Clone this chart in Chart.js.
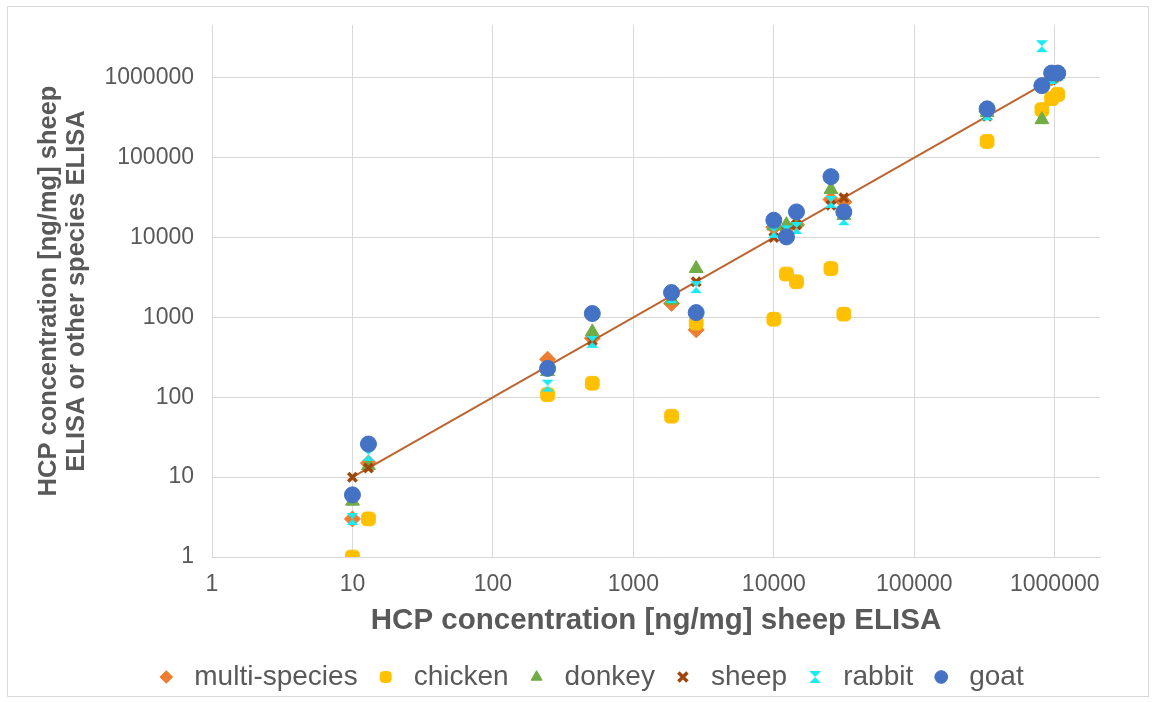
<!DOCTYPE html>
<html>
<head>
<meta charset="utf-8">
<script src="https://cdn.jsdelivr.net/npm/chart.js@4.4.1/dist/chart.umd.min.js"></script>
<style>
  html, body { margin: 0; padding: 0; background: #fff; }
  #wrap { position: relative; width: 1156px; height: 702px; }
</style>
</head>
<body>
<div id="wrap"><canvas id="hcp-chart" width="1156" height="702"></canvas></div>
<script>
// Sheep ELISA reference values (x) shared by every series
const xValues = [10, 13, 245, 510, 1870, 2800, 10000, 12300, 14500, 25500, 31500, 330000, 810000, 950000, 1050000];

// Values measured with the sheep ELISA or the other species ELISAs
const multiSpecies = [3, 15, 300, 550, 1500, 700, 13500, 13000, 14500, 30000, 28000, 380000, 800000, 1000000, 1100000];
const chicken = [1, 3, 108, 150, 58, 850, 950, 3500, 2800, 4100, 1100, 160000, 400000, 550000, 620000];
const donkey = [5, 14, 210, 660, 1650, 4100, 14000, 14500, 15500, 40000, 19000, 370000, 300000, 1000000, 1100000];
const sheep = [10, 13, 245, 510, 1870, 2800, 10000, 12300, 14500, 25500, 31500, 330000, 810000, 950000, 1050000];
const rabbit = [3, 19, 140, 495, 1800, 2400, 11800, 12000, 13200, 28000, 17000, 350000, 2500000, 1000000, 1100000];
const goat = [6, 26, 230, 1120, 2050, 1150, 16500, 10200, 21000, 58000, 21000, 410000, 800000, 1150000, 1150000];

// trendline through the sheep series
const trendX = [10, 1050000];
const trendY = [10, 1050000];

const tickValues = [1, 10, 100, 1000, 10000, 100000, 1000000];

const grey = '#595959';
const gridGrey = '#d9d9d9';

function pts(ys) {
    return xValues.map((x, i) => ({ x: x, y: ys[i] }));
}

// hourglass marker for the rabbit series
function hourglass(color) {
    const c = document.createElement('canvas');
    c.width = 14; c.height = 14;
    const g = c.getContext('2d');
    g.fillStyle = color;
    g.beginPath();
    g.moveTo(1, 1); g.lineTo(13, 1); g.lineTo(7, 7); g.closePath();
    g.moveTo(7, 7); g.lineTo(13, 13); g.lineTo(1, 13); g.closePath();
    g.fill();
    return c;
}

const frame = {
    id: 'frame',
    beforeDraw(chart) {
        const ctx = chart.ctx;
        ctx.save();
        ctx.strokeStyle = gridGrey;
        ctx.lineWidth = 1;
        ctx.strokeRect(7.5, 6.5, 1141, 690);
        ctx.restore();
    },
    afterLayout(chart) {
        // legend sits a little right of the plot centre in the original
        chart.legend.left += 28;
        chart.legend.right += 28;
    }
};

Chart.defaults.font.family = '"Liberation Sans", Arial, sans-serif';
Chart.defaults.color = grey;

const ctx = document.getElementById('hcp-chart').getContext('2d');
new Chart(ctx, {
    type: 'scatter',
    data: {
        datasets: [
            { label: 'goat', data: pts(goat), pointStyle: 'circle', pointRadius: 8, backgroundColor: '#4472c4', borderColor: '#4472c4', order: 0 },
            { label: 'rabbit', data: pts(rabbit), pointStyle: hourglass('#1de9f0'), backgroundColor: '#1de9f0', borderColor: '#1de9f0', order: 1 },
            { label: 'sheep', data: pts(sheep), pointStyle: 'crossRot', pointRadius: 6, borderWidth: 3.5, backgroundColor: '#9e480e', borderColor: '#9e480e', order: 2 },
            { label: 'trend', data: trendX.map((x, i) => ({ x: x, y: trendY[i] })), showLine: true, pointRadius: 0, borderColor: '#bd6430', borderWidth: 2, order: 3 },
            { label: 'donkey', data: pts(donkey), pointStyle: 'triangle', pointRadius: 8, backgroundColor: '#70ad47', borderColor: '#70ad47', order: 4 },
            { label: 'chicken', data: pts(chicken), pointStyle: 'rectRounded', pointRadius: 8, backgroundColor: '#ffc000', borderColor: '#ffc000', order: 5 },
            { label: 'multi-species', data: pts(multiSpecies), pointStyle: 'rectRot', pointRadius: 8, backgroundColor: '#ed7d31', borderColor: '#ed7d31', order: 6 }
        ]
    },
    options: {
        responsive: false,
        animation: false,
        devicePixelRatio: 1,
        layout: { padding: { left: 20, right: 56, top: 25, bottom: 1 } },
        plugins: {
            tooltip: { enabled: false },
            legend: {
                position: 'bottom',
                labels: {
                    usePointStyle: true,
                    boxHeight: 9,
                    padding: 14,
                    color: grey,
                    font: { size: 28 },
                    filter: (item) => item.text !== 'trend',
                    sort: (a, b) => b.datasetIndex - a.datasetIndex
                }
            }
        },
        scales: {
            x: {
                type: 'logarithmic',
                min: 1,
                max: 2100000,
                afterBuildTicks: (s) => { s.ticks = tickValues.map(v => ({ value: v })); },
                afterFit: (s) => { s.height = 92; },
                ticks: { callback: (v) => String(v), autoSkip: false, maxRotation: 0, padding: 14, color: grey, font: { size: 23 } },
                grid: { color: gridGrey, drawTicks: false },
                border: { color: gridGrey },
                title: { display: true, text: 'HCP concentration [ng/mg] sheep ELISA', color: grey, font: { size: 29.5, weight: 'bold' }, padding: { top: 4, bottom: 10 } }
            },
            y: {
                type: 'logarithmic',
                min: 1,
                max: 4600000,
                afterBuildTicks: (s) => { s.ticks = tickValues.map(v => ({ value: v })); },
                afterFit: (s) => { s.width = 192; s.paddingTop = 0; s.paddingBottom = 0; },
                ticks: { callback: (v) => String(v), autoSkip: false, padding: 18, color: grey, font: { size: 23 } },
                grid: { color: gridGrey, drawTicks: false },
                border: { color: gridGrey },
                title: { display: true, text: ['HCP concentration [ng/mg] sheep', 'ELISA or other species ELISA'], color: grey, font: { size: 25.5, weight: 'bold', lineHeight: 1.1 }, padding: { top: 15, bottom: 0 } }
            }
        }
    },
    plugins: [frame]
});
</script>
</body>
</html>
